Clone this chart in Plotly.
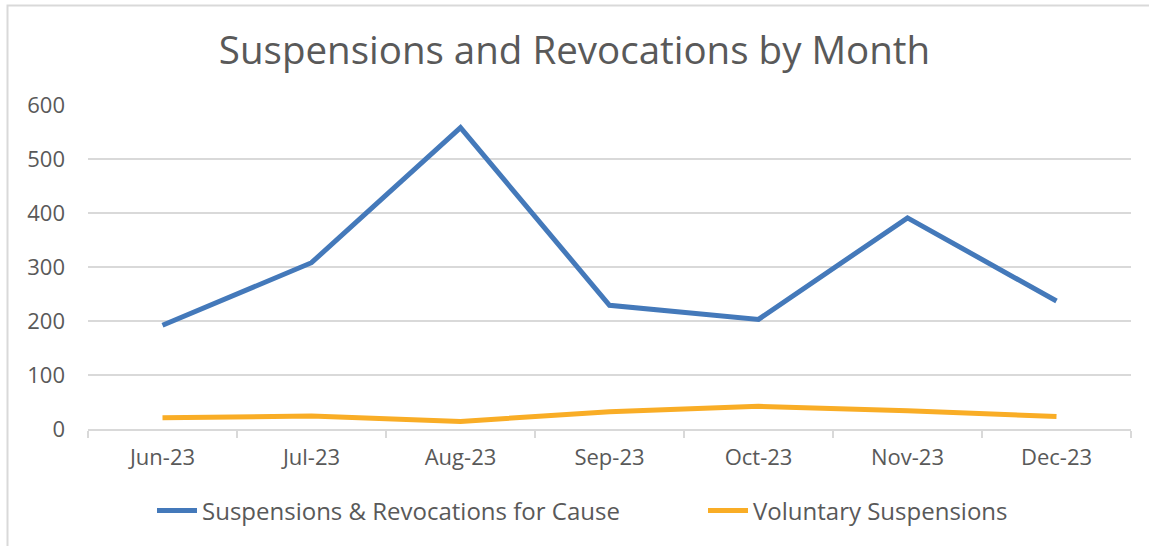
import plotly.graph_objects as go

months = ["Jun-23", "Jul-23", "Aug-23", "Sep-23", "Oct-23", "Nov-23", "Dec-23"]
for_cause = [192, 308, 558, 229, 203, 391, 237]
voluntary = [21, 24, 14, 32, 42, 34, 23]
y_ticks = [0, 100, 200, 300, 400, 500, 600]

FONT = "Open Sans"
GREY = "#595959"

fig = go.Figure()
fig.add_trace(go.Scatter(x=months, y=for_cause, mode="lines",
                         name="Suspensions & Revocations for Cause", showlegend=True,
                         line=dict(color="#4479BA", width=5), legend="legend"))
fig.add_trace(go.Scatter(x=months, y=voluntary, mode="lines",
                         name="Voluntary Suspensions", showlegend=True,
                         line=dict(color="#F9AD26", width=5), legend="legend2"))

L, R, T, B = 88, 18, 105, 117
W, H = 1149, 546
pw, ph = W - L - R, H - T - B

def px2x(px):
    return (px - L) / pw

def py2y(py):
    return (H - B - py) / ph

leg_common = dict(orientation="h", yanchor="middle", y=py2y(511), xanchor="left",
                  font=dict(size=24, color=GREY), itemwidth=40, visible=True)

fig.update_layout(
    width=W, height=H,
    showlegend=True,
    margin=dict(l=L, r=R, t=T, b=B),
    paper_bgcolor="white", plot_bgcolor="white",
    font=dict(family=FONT, color=GREY, size=21),
    title=dict(text="Suspensions and Revocations by Month", x=0.5, xanchor="center",
               y=1 - 51 / H, yanchor="middle",
               font=dict(family=FONT, size=38.5, color=GREY)),
    xaxis=dict(type="category", range=[-0.5, 6.5], tickson="boundaries",
               ticks="outside", ticklen=7, tickcolor="#d9d9d9", tickwidth=1.5,
               showline=True, linecolor="#d9d9d9", linewidth=1.5,
               showgrid=False, ticklabelstandoff=8,
               tickfont=dict(size=22, color=GREY)),
    yaxis=dict(range=[0, 600], tickvals=y_ticks, showgrid=True, gridcolor="#d9d9d9",
               gridwidth=1.5, zeroline=False, showline=False, ticks="",
               ticklabelstandoff=22, tickfont=dict(size=22, color=GREY)),
    legend=dict(leg_common, x=px2x(152)),
    legend2=dict(leg_common, x=px2x(703)),
    shapes=[dict(type="rect", xref="paper", yref="paper",
                 x0=px2x(7.5), x1=px2x(1200), y0=py2y(600), y1=py2y(5.5),
                 line=dict(color="#d9d9d9", width=2), fillcolor="rgba(0,0,0,0)", layer="below")],
)

fig.write_html("out.html", config={"displayModeBar": False},
               post_script="document.body.style.margin='0px';document.body.style.overflow='hidden';")
